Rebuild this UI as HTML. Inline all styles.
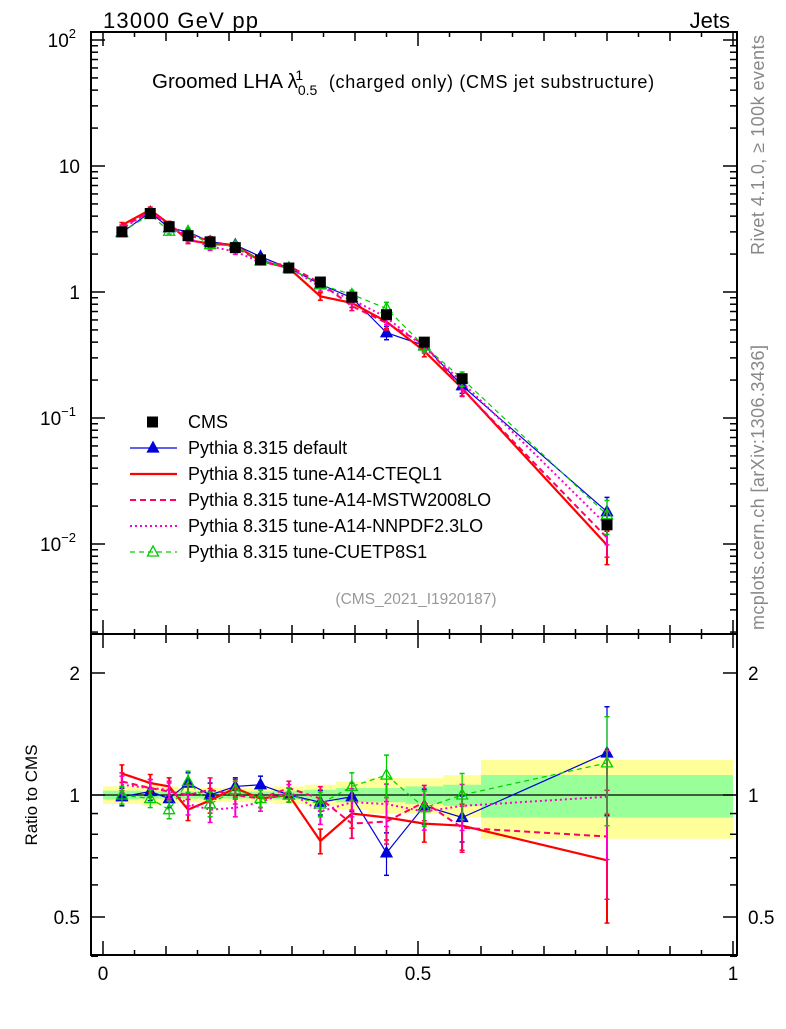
<!DOCTYPE html>
<html><head><meta charset="utf-8"><style>
body{margin:0;background:#fff;font-family:"Liberation Sans",sans-serif;}
svg text{font-family:"Liberation Sans",sans-serif;}
</style></head><body>
<svg id="c" width="786" height="1024" viewBox="0 0 786 1024" xmlns="http://www.w3.org/2000/svg">
<text x="103" y="28" font-size="22" textLength="155">13000 GeV pp</text>
<text x="730" y="28" font-size="22" text-anchor="end">Jets</text>
<text x="152" y="88" font-size="20.5">Groomed LHA λ<tspan font-size="14" dy="7">0.5</tspan><tspan font-size="14" dx="-22" dy="-15">1</tspan><tspan font-size="18" dx="20" dy="8" textLength="331"> (charged only) (CMS jet substructure)</tspan></text>
<text x="0" y="0" font-size="18" fill="#888" textLength="220" transform="translate(764,255) rotate(-90)">Rivet 4.1.0, ≥ 100k events</text>
<text x="0" y="0" font-size="18" fill="#888" textLength="285" transform="translate(764,630) rotate(-90)">mcplots.cern.ch [arXiv:1306.3436]</text>
<text x="416" y="604" font-size="15.5" fill="#999" text-anchor="middle">(CMS_2021_I1920187)</text>
<text x="0" y="0" font-size="17" text-anchor="middle" transform="translate(37,795) rotate(-90)">Ratio to CMS</text>
<g id="g"></g>
</svg>
<script>
const xCenters=[0.03,0.075,0.105,0.135,0.17,0.21,0.25,0.295,0.345,0.395,0.45,0.51,0.57,0.8];
const binEdges=[0,0.06,0.09,0.12,0.15,0.19,0.23,0.27,0.32,0.37,0.42,0.48,0.54,0.6,1.0];
const cmsValues=[3.0,4.2,3.3,2.8,2.5,2.25,1.8,1.55,1.2,0.91,0.66,0.40,0.205,0.0142];
const bandGreen=[0.025,0.02,0.02,0.02,0.02,0.02,0.02,0.025,0.03,0.04,0.04,0.05,0.06,0.12];
const bandYellow=[0.05,0.06,0.05,0.04,0.04,0.04,0.04,0.05,0.06,0.08,0.1,0.1,0.12,0.22];
const ratioDefault=[0.99,1.02,0.98,1.07,1.0,1.05,1.06,1.0,0.96,0.99,0.72,0.94,0.88,1.27];
const ratioCTEQ=[1.13,1.07,1.05,0.92,0.97,1.04,0.98,1.0,0.77,0.9,0.88,0.85,0.84,0.69];
const ratioMSTW=[1.08,1.04,1.02,1.0,1.03,1.0,0.98,1.04,0.98,0.85,0.86,0.96,0.83,0.79];
const ratioNNPDF=[1.06,1.04,1.03,0.95,0.92,0.93,0.96,1.02,0.91,0.96,0.95,0.91,0.94,0.99];
const ratioCUETP=[1.0,0.98,0.92,1.08,0.95,1.03,0.98,1.0,0.95,1.05,1.12,0.93,1.0,1.2];
const relErr=[0.05,0.05,0.05,0.06,0.07,0.05,0.05,0.04,0.07,0.08,0.12,0.1,0.13,0.3];
const mainTickLabels=[[2,"10","2"],[1,"10",""],[0,"1",""],[-1,"10","−1"],[-2,"10","−2"]];
const ratioTickLabels=[[2,"2"],[1,"1"],[0.5,"0.5"]];
const xTickLabels=[[0,"0"],[0.5,"0.5"],[1,"1"]];

const NS="http://www.w3.org/2000/svg";
const g=document.getElementById('g');
const L=91,R=737,T=32,M=634,B=955;
const X=v=>103+630*v;
const Y=v=>292-126*Math.log10(v);
const YR=v=>795-122*Math.log2(v);
function el(t,a,p){const e=document.createElementNS(NS,t);for(const k in a)e.setAttribute(k,a[k]);(p||g).appendChild(e);return e;}

for(let i=0;i<xCenters.length;i++){
  const x0=X(binEdges[i]),x1=X(binEdges[i+1]);
  const y=el('rect',{x:x0,y:YR(1+bandYellow[i]),width:x1-x0,height:YR(1-bandYellow[i])-YR(1+bandYellow[i]),fill:'#ffff99'});
  
  
  const gr=el('rect',{x:x0,y:YR(1+bandGreen[i]),width:x1-x0,height:YR(1-bandGreen[i])-YR(1+bandGreen[i]),fill:'#99ff99'});
  
  
}
el('line',{x1:L,x2:R,y1:YR(1),y2:YR(1),stroke:'#000','stroke-width':1.2});

const series=[
 {n:'default',r:ratioDefault,c:'#0000dd',w:1.2,d:'',m:'tri'},
 {n:'cteql1',r:ratioCTEQ,c:'#ff0000',w:2.2,d:'',m:''},
 {n:'mstw2008lo',r:ratioMSTW,c:'#ff0066',w:2,d:'6,4',m:''},
 {n:'nnpdf23lo',r:ratioNNPDF,c:'#ff00cc',w:2,d:'2,3',m:''},
 {n:'cuetp8s1',r:ratioCUETP,c:'#00cc00',w:1.2,d:'5,4',m:'otri'}
];
function tri(x,y,c,open,name){
  const p=el('polygon',{points:`${x},${y-6} ${x-5.5},${y+4} ${x+5.5},${y+4}`,fill:open?'none':c,stroke:c,'stroke-width':1.3});
  
  
}
for(const s of series){
  const mainPts=xCenters.map((x,i)=>[X(x),Y(cmsValues[i]*s.r[i])]);
  const ratPts=xCenters.map((x,i)=>[X(x),YR(s.r[i])]);
  for(const [pts,name,yf,vals] of [[mainPts,'main',Y,i=>cmsValues[i]*s.r[i]],[ratPts,'ratio',YR,i=>s.r[i]]]){
    const l=el('polyline',{points:pts.map(p=>p.join(',')).join(' '),fill:'none',stroke:s.c,'stroke-width':s.w,'stroke-dasharray':s.d});
    
    
    pts.forEach((p,i)=>{
      const v=vals(i),e=relErr[i];
      const e1=el('line',{x1:p[0],x2:p[0],y1:yf(v*(1+e)),y2:yf(v*(1-e)),stroke:s.c,'stroke-width':s.w>1.5?2:1.2});
      
      
      el('line',{x1:p[0]-2.5,x2:p[0]+2.5,y1:yf(v*(1+e)),y2:yf(v*(1+e)),stroke:s.c,'stroke-width':1.5});
      el('line',{x1:p[0]-2.5,x2:p[0]+2.5,y1:yf(v*(1-e)),y2:yf(v*(1-e)),stroke:s.c,'stroke-width':1.5});
      if(s.m)tri(p[0],p[1],s.c,s.m==='otri','marker-'+s.n);
    });
  }
}
xCenters.forEach((x,i)=>{
  const r=el('rect',{x:X(x)-5.5,y:Y(cmsValues[i])-5.5,width:11,height:11,fill:'#000'});
  
  
});

for(const [t,b] of [[T,M],[M,B]]){
  const f=el('rect',{x:L,y:t,width:R-L,height:b-t,fill:'none',stroke:'#000','stroke-width':2});
  
  
  for(let k=0;k<=20;k++){
    const v=k*0.05,len=k%10==0?14:(k%2==0?9:5),x=X(v);
    el('line',{x1:x,x2:x,y1:b,y2:b-len,stroke:'#000','stroke-width':1.5});
    el('line',{x1:x,x2:x,y1:t,y2:t+len,stroke:'#000','stroke-width':1.5});
  }
}
for(let d=-3;d<=2;d++){for(let m=1;m<10;m++){
  const v=m*Math.pow(10,d),y=Y(v);if(y<T||y>M)continue;
  const len=m==1?14:7;
  el('line',{x1:L,x2:L+len,y1:y,y2:y,stroke:'#000','stroke-width':1.5});
  el('line',{x1:R,x2:R-len,y1:y,y2:y,stroke:'#000','stroke-width':1.5});
}}
mainTickLabels.forEach(([d,b,s])=>{
  const t=el('text',{x:s?76:80,y:Y(Math.pow(10,d))+7,'font-size':19,'text-anchor':'end'});
  t.textContent=b;
  if(s){const ts=el('tspan',{'font-size':13,dy:-9},t);ts.textContent=s;}
  
  
});
[0.4,0.5,0.6,0.7,0.8,0.9,1,2].forEach(v=>{
  const y=YR(v),len=(v==0.5||v==1||v==2)?14:7;
  el('line',{x1:L,x2:L+len,y1:y,y2:y,stroke:'#000','stroke-width':1.5});
  el('line',{x1:R,x2:R-len,y1:y,y2:y,stroke:'#000','stroke-width':1.5});
});
ratioTickLabels.forEach(([v,s])=>{
  for(const [x,a] of [[80,'end'],[748,'start']]){
    const t=el('text',{x:x,y:YR(v)+7,'font-size':19,'text-anchor':a});
    t.textContent=s;
    
    
  }
});
xTickLabels.forEach(([v,s])=>{
  const t=el('text',{x:X(v),y:980,'font-size':19,'text-anchor':'middle'});
  t.textContent=s;
  
  
});
const leg=[['CMS','#000','','sq',2],['Pythia 8.315 default','#0000dd','','tri',1.2],['Pythia 8.315 tune-A14-CTEQL1','#ff0000','','',2.2],['Pythia 8.315 tune-A14-MSTW2008LO','#ff0066','6,4','',2],['Pythia 8.315 tune-A14-NNPDF2.3LO','#ff00cc','2,3','',2],['Pythia 8.315 tune-CUETP8S1','#00cc00','5,4','otri',1.2]];
leg.forEach((l,i)=>{
  const y=422+26*i;
  if(l[3]=='sq'){el('rect',{x:147,y:y-5.5,width:11,height:11,fill:'#000'});}
  else{el('line',{x1:130,x2:177,y1:y,y2:y,stroke:l[1],'stroke-width':l[4],'stroke-dasharray':l[2]});
    if(l[3])tri(153,y,l[1],l[3]=='otri','legend-marker');}
  const t=el('text',{x:188,y:y+6,'font-size':18});
  t.textContent=l[0];
  
  
});
</script>
</body></html>
